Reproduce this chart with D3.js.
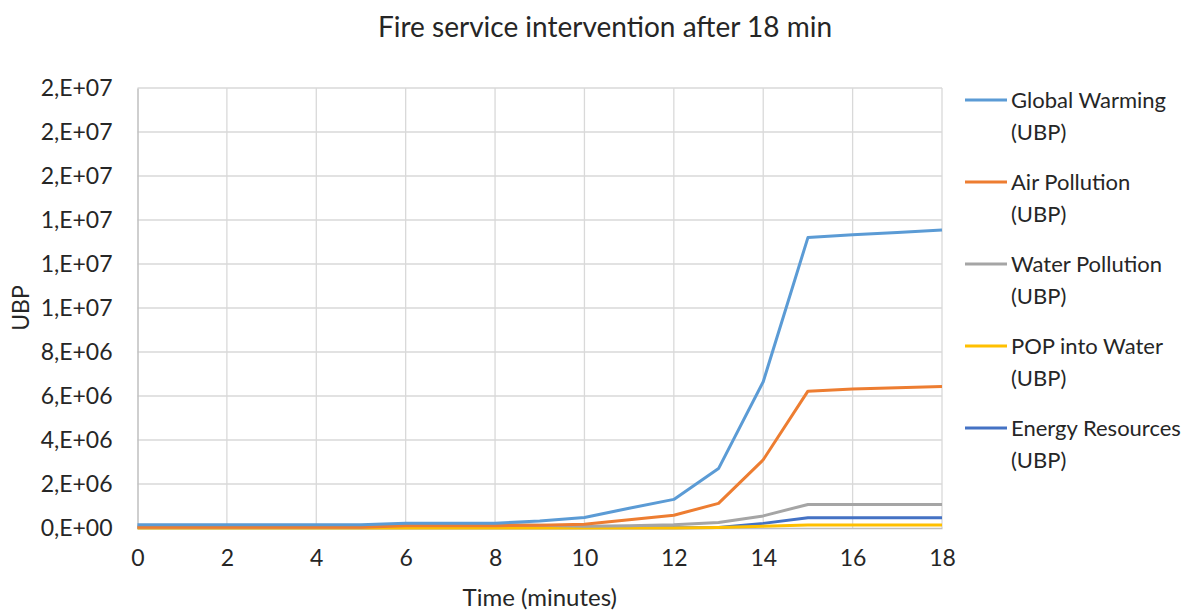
<!DOCTYPE html>
<html>
<head>
<meta charset="utf-8">
<script src="https://cdn.jsdelivr.net/npm/d3@7"></script>
<style>
  body { margin: 0; background: #fff; }
  svg text { font-family: Lato, "Open Sans", sans-serif; fill: #262626; }
</style>
</head>
<body>
<div id="chart"></div>
<script>
// minutes after start
var minutes = [0, 1, 2, 3, 4, 5, 6, 7, 8, 9, 10, 11, 12, 13, 14, 15, 16, 17, 18];

// UBP values
var globalWarming = [1.5e5, 1.5e5, 1.5e5, 1.5e5, 1.5e5, 1.5e5, 2.2e5, 2.2e5, 2.2e5, 3.2e5, 4.8e5, 9.0e5, 1.3e6, 2.7e6, 6.65e6, 1.32e7, 1.333e7, 1.343e7, 1.355e7];
var airPollution = [3e4, 3e4, 3e4, 3e4, 3e4, 3e4, 1.0e5, 1.0e5, 1.0e5, 1.3e5, 1.7e5, 3.7e5, 5.8e5, 1.12e6, 3.1e6, 6.22e6, 6.32e6, 6.38e6, 6.43e6];
var waterPollution = [5e4, 5e4, 5e4, 5e4, 5e4, 5e4, 1.8e5, 1.8e5, 1.8e5, 1.2e5, 8e4, 1.0e5, 1.5e5, 2.5e5, 5.5e5, 1.07e6, 1.07e6, 1.07e6, 1.07e6];
var popIntoWater = [0, 0, 0, 0, 0, 0, 0, 0, 0, 0, 0, 0, 0, 2e4, 8e4, 1.4e5, 1.4e5, 1.4e5, 1.4e5];
var energyResources = [1e4, 1e4, 1e4, 1e4, 1e4, 1e4, 1e4, 1e4, 1e4, 1e4, 1e4, 1e4, 1e4, 2e4, 2.1e5, 4.7e5, 4.7e5, 4.7e5, 4.7e5];

var seriesNames = ["Global Warming (UBP)", "Air Pollution (UBP)", "Water Pollution (UBP)", "POP into Water (UBP)", "Energy Resources (UBP)"];
var seriesValues = [globalWarming, airPollution, waterPollution, popIntoWater, energyResources];
var seriesColors = ["#5B9BD5", "#ED7D31", "#A5A5A5", "#FFC000", "#4472C4"];

var xTicks = [0, 2, 4, 6, 8, 10, 12, 14, 16, 18];
var yTicks = [0, 2e6, 4e6, 6e6, 8e6, 1e7, 1.2e7, 1.4e7, 1.6e7, 1.8e7, 2e7];

var W = 1204, H = 612;
var margin = { top: 88, right: 262, bottom: 84, left: 137.5 };
var width = W - margin.left - margin.right;
var height = H - margin.top - margin.bottom;

// excel style "2,E+06"
var sciFormat = function(v) {
    if (v === 0) return "0,E+00";
    var e = Math.floor(Math.log10(v));
    var m = Math.round(v / Math.pow(10, e));
    if (m >= 10) { m = 1; e += 1; }
    return m + ",E+" + (e < 10 ? "0" + e : e);
};

var x = d3.scaleLinear().domain([0, 18]).range([0, width]);
var y = d3.scaleLinear().domain([0, 2e7]).range([height, 0]);

var svg = d3.select("#chart").append("svg")
    .attr("width", W)
    .attr("height", H);

svg.append("text")
    .attr("x", 605)
    .attr("y", 37)
    .attr("text-anchor", "middle")
    .style("font-size", "28px")
    .text("Fire service intervention after 18 min");

var g = svg.append("g")
    .attr("transform", "translate(" + margin.left + "," + margin.top + ")");

// grid
g.append("g").selectAll("line.h")
    .data(yTicks.slice(1)).enter()
    .append("line")
    .attr("x1", 0).attr("x2", width)
    .attr("y1", function(d) { return y(d); })
    .attr("y2", function(d) { return y(d); })
    .style("stroke", "#d9d9d9").style("stroke-width", 1.3);

g.append("g").selectAll("line.v")
    .data(xTicks.slice(1)).enter()
    .append("line")
    .attr("y1", 0).attr("y2", height)
    .attr("x1", function(d) { return x(d); })
    .attr("x2", function(d) { return x(d); })
    .style("stroke", "#d9d9d9").style("stroke-width", 1.3);

var yAxis = d3.axisLeft(y).tickValues(yTicks).tickFormat(sciFormat).tickSize(0).tickPadding(25);
var xAxis = d3.axisBottom(x).tickValues(xTicks).tickFormat(d3.format("d")).tickSize(0).tickPadding(22);

var yg = g.append("g").attr("class", "y axis").call(yAxis);
yg.select(".domain").style("stroke", "#bfbfbf").style("stroke-width", 1.5);
yg.selectAll("text").style("font-size", "23px");

var xg = g.append("g").attr("class", "x axis")
    .attr("transform", "translate(0," + height + ")")
    .call(xAxis);
xg.select(".domain").style("stroke", "#bfbfbf").style("stroke-width", 1.5);
xg.selectAll("text").style("font-size", "23px");

var line = d3.line()
    .x(function(d, i) { return x(minutes[i]); })
    .y(function(d) { return y(d); });

// draw back to front so light blue stays on top like in excel order
for (var s = seriesValues.length - 1; s >= 0; s--) {
    g.append("path")
        .datum(seriesValues[s])
        .attr("d", line)
        .style("fill", "none")
        .style("stroke", seriesColors[s])
        .style("stroke-width", 3)
        .style("stroke-linejoin", "round");
}

svg.append("text")
    .attr("x", margin.left + width / 2)
    .attr("y", 606)
    .attr("text-anchor", "middle")
    .style("font-size", "24px")
    .text("Time (minutes)");

svg.append("text")
    .attr("transform", "translate(29," + 308 + ") rotate(-90)")
    .attr("text-anchor", "middle")
    .style("font-size", "23px")
    .text("UBP");

// legend
var legend = svg.selectAll(".legend")
    .data(seriesNames).enter()
    .append("g")
    .attr("class", "legend")
    .attr("transform", function(d, i) { return "translate(965," + (100 + i * 82) + ")"; });

legend.append("line")
    .attr("x1", 0).attr("x2", 42)
    .attr("y1", 0).attr("y2", 0)
    .style("stroke", function(d, i) { return seriesColors[i]; })
    .style("stroke-width", 3);

legend.append("text")
    .attr("x", 46)
    .attr("y", 8)
    .style("font-size", "22px")
    .text(function(d) { return d.replace(" (UBP)", ""); });

legend.append("text")
    .attr("x", 46)
    .attr("y", 40)
    .style("font-size", "22px")
    .text("(UBP)");
</script>
</body>
</html>
